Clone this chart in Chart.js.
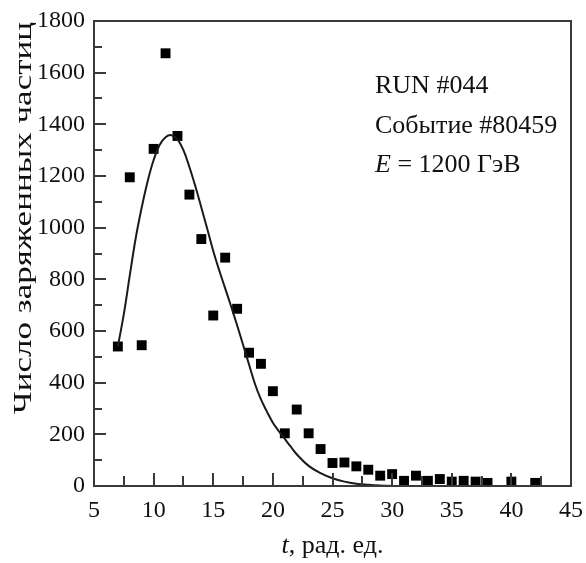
<!DOCTYPE html>
<html>
<head>
<meta charset="utf-8">
<script src="https://cdn.jsdelivr.net/npm/chart.js@4.4.1/dist/chart.umd.min.js"></script>
<style>
    html, body { margin: 0; padding: 0; background: #fff; }
    canvas { display: block; }
</style>
</head>
<body>
<canvas id="showerChart" width="586" height="563"></canvas>
<script>
// ==================== Data ====================
const eventT = [7, 8, 9, 10, 11, 12, 13, 14, 15, 16, 17, 18, 19, 20, 21, 22, 23, 24,
    25, 26, 27, 28, 29, 30, 31, 32, 33, 34, 35, 36, 37, 38, 40, 42];
const eventCounts = [540, 1195, 545, 1305, 1675, 1355, 1128, 956, 660, 884, 686, 516, 473, 367, 204, 296, 204, 143,
    89, 91, 76, 63, 40, 46, 20, 40, 20, 27, 17, 20, 17, 12, 17, 12];

// fitted curve
const fitT = [7, 7.5, 8, 8.5, 9, 9.5, 10, 10.5, 11, 11.5, 12, 12.5, 13, 13.5, 14, 14.5, 15, 15.5,
    16, 16.5, 17, 17.5, 18, 18.5, 19, 19.5, 20, 20.5, 21, 21.5, 22, 23, 24, 25, 26, 27, 28, 29, 30];
const fitCounts = [540, 665, 815, 960, 1078, 1180, 1262, 1320, 1350, 1358, 1342, 1300, 1235, 1160, 1078, 995, 910, 835,
    765, 695, 622, 547, 470, 395, 335, 288, 245, 212, 182, 152, 123, 78, 50, 30, 17, 9, 5, 2, 0];

const xRange = [5, 45];
const yRange = [0, 1800];
const xLabelStep = 5;
const yLabelStep = 200;

const yTitle = 'Число заряженных частиц';
const xTitleVar = 't';
const xTitleRest = ', рад. ед.';
const infoLines = ['RUN #044', 'Событие #80459'];
const energyVar = 'E';
const energyRest = ' = 1200 ГэВ';

const SERIF = '"Liberation Serif", "Times New Roman", serif';
const INK = '#3a3a3a';

// ==================== Frame, inward ticks and texts ====================
const framePlugin = {
    id: 'framePlugin',
    afterDraw(chart) {
        const ctx = chart.ctx;
        const area = chart.chartArea;
        const xs = chart.scales.x;
        const ys = chart.scales.y;

        ctx.save();
        ctx.strokeStyle = INK;
        ctx.lineWidth = 2;
        ctx.strokeRect(area.left, area.top, area.right - area.left, area.bottom - area.top);

        // bottom ticks every 2.5, longer on the labelled ones
        ctx.beginPath();
        for (let v = xs.min + 2.5; v < xs.max; v += 2.5) {
            const px = Math.round(xs.getPixelForValue(v));
            const len = (v % xLabelStep === 0) ? 13 : 10;
            ctx.moveTo(px, area.bottom);
            ctx.lineTo(px, area.bottom - len);
        }
        // left ticks every 100
        for (let v = ys.min + 100; v < ys.max; v += 100) {
            const py = Math.round(ys.getPixelForValue(v));
            const len = (v % yLabelStep === 0) ? 12 : 8;
            ctx.moveTo(area.left, py);
            ctx.lineTo(area.left + len, py);
        }
        ctx.stroke();

        ctx.fillStyle = '#111';
        ctx.textBaseline = 'alphabetic';

        // y title, rotated and stretched along its length like the scan
        ctx.save();
        ctx.font = '26px ' + SERIF;
        const w = ctx.measureText(yTitle).width;
        ctx.translate(31, 218);
        ctx.rotate(-Math.PI / 2);
        ctx.scale(392 / w, 1);
        ctx.textAlign = 'center';
        ctx.fillText(yTitle, 0, 0);
        ctx.restore();

        // x title: italic t + plain rest
        ctx.font = 'italic 26px ' + SERIF;
        const wt = ctx.measureText(xTitleVar).width;
        ctx.font = '26px ' + SERIF;
        const wr = ctx.measureText(xTitleRest).width;
        let x0 = (area.left + area.right) / 2 - (wt + wr) / 2;
        ctx.textAlign = 'left';
        ctx.font = 'italic 26px ' + SERIF;
        ctx.fillText(xTitleVar, x0, 553);
        ctx.font = '26px ' + SERIF;
        ctx.fillText(xTitleRest, x0 + wt, 553);

        // run info
        const infoX = 375;
        ctx.fillText(infoLines[0], infoX, 93);
        ctx.fillText(infoLines[1], infoX, 133);
        ctx.font = 'italic 26px ' + SERIF;
        const we = ctx.measureText(energyVar).width;
        ctx.fillText(energyVar, infoX, 172);
        ctx.font = '26px ' + SERIF;
        ctx.fillText(energyRest, infoX + we, 172);
        ctx.restore();
    }
};

function renderShowerChart() {
    const ctx = document.getElementById('showerChart');

    new Chart(ctx, {
        type: 'scatter',
        data: {
            datasets: [
                {
                    label: 'fit',
                    type: 'line',
                    data: fitT.map((t, i) => ({ x: t, y: fitCounts[i] })),
                    borderColor: '#1a1a1a',
                    borderWidth: 2,
                    pointRadius: 0,
                    tension: 0.4,
                    fill: false
                },
                {
                    label: 'data',
                    data: eventT.map((t, i) => ({ x: t, y: eventCounts[i] })),
                    pointStyle: 'rect',
                    pointRadius: 7,
                    backgroundColor: '#000',
                    borderColor: '#000',
                    borderWidth: 0
                }
            ]
        },
        options: {
            responsive: false,
            animation: false,
            layout: { padding: { top: 21, right: 15, left: 0, bottom: 0 } },
            plugins: {
                legend: { display: false },
                tooltip: { enabled: false }
            },
            scales: {
                x: {
                    type: 'linear',
                    min: xRange[0],
                    max: xRange[1],
                    afterFit: s => { s.height = 77; s.paddingLeft = 0; s.paddingRight = 0; },
                    grid: { display: false, drawTicks: false },
                    border: { display: false },
                    ticks: {
                        stepSize: xLabelStep,
                        padding: 10,
                        maxRotation: 0,
                        color: '#111',
                        font: { family: SERIF, size: 24 },
                        callback: v => String(v)
                    }
                },
                y: {
                    min: yRange[0],
                    max: yRange[1],
                    afterFit: s => { s.width = 94; s.paddingTop = 0; s.paddingBottom = 0; },
                    grid: { display: false, drawTicks: false },
                    border: { display: false },
                    ticks: {
                        stepSize: yLabelStep,
                        padding: 9,
                        color: '#111',
                        font: { family: SERIF, size: 24 },
                        callback: v => String(v)
                    }
                }
            }
        },
        plugins: [framePlugin]
    });
}

renderShowerChart();
</script>
</body>
</html>
